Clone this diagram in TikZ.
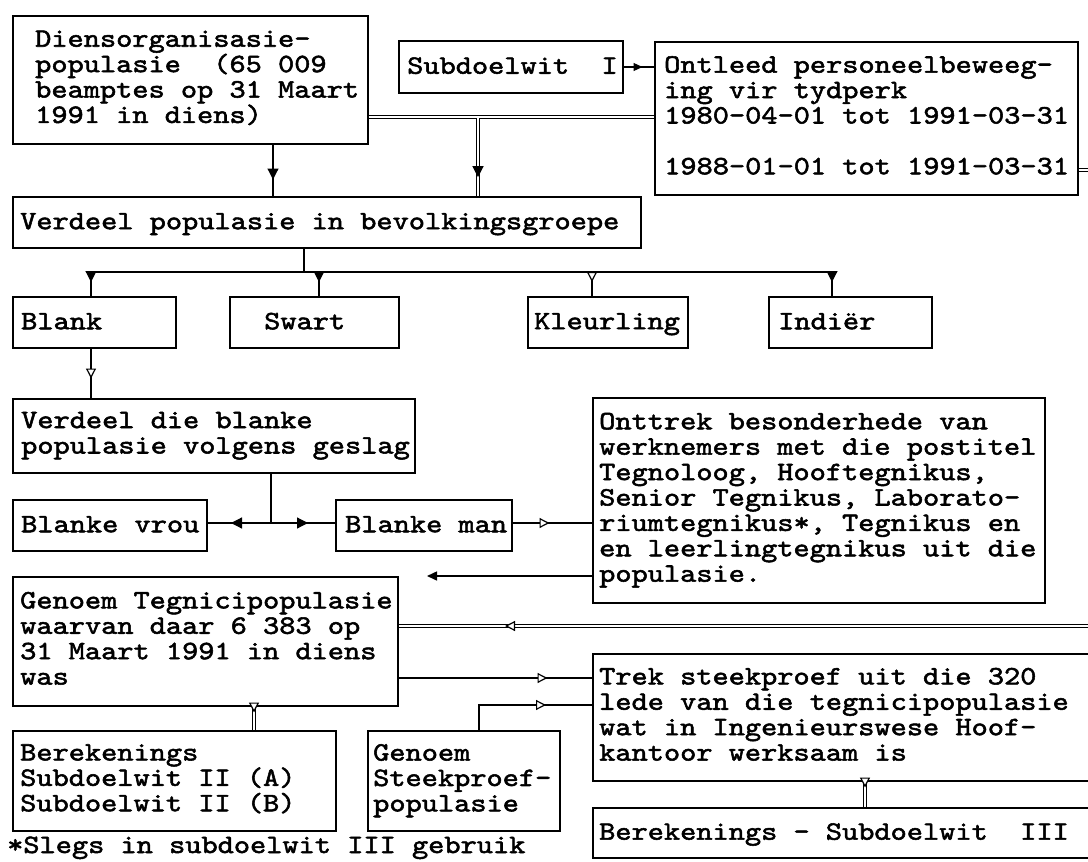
\documentclass[tikz,border=0pt]{standalone}
\usepackage{fontspec}
\newfontfamily\cour{lmmono10-regular}[Extension=.otf, FakeStretch=1.164, FakeBold=2]
\usetikzlibrary{arrows.meta,decorations.markings}
\tikzset{
  bx/.style={draw, line width=1.5pt, rectangle, inner sep=0pt, anchor=north west},
  tx/.style={anchor=west, align=left, inner sep=0pt, font=\cour\fontsize{26.5pt}{25.4pt}\selectfont,
    execute at begin node={\rule[-6pt]{0pt}{26pt}}, execute at end node={\rule[-6pt]{0pt}{26pt}}},
  ln/.style={line width=1.5pt},
  dbl/.style={double, double distance=2.4pt, line width=1.2pt},
  ft/.tip={Triangle[width=11pt,length=11pt]},
  st/.tip={Triangle[width=8pt,length=9pt]},
  ot/.tip={Triangle[fill=white,width=10pt,length=10pt]},
  mk/.style 2 args={postaction={decorate},decoration={markings,mark=at position #1 with {\arrow[line width=1.2pt]{#2}}}},
}
\begin{document}
\begin{tikzpicture}[x=1pt,y=-1pt]
\useasboundingbox (0,0) rectangle (1088,862);
\clip (0,0) rectangle (1088,862);
% boxes
\node[bx, minimum width=355pt, minimum height=128pt] (D) at (12,15) {};
\node[bx, minimum width=224pt, minimum height=52pt] (S1) at (398,40) {};
\node[bx, minimum width=423pt, minimum height=153pt] (O) at (654,41) {};
\node[bx, minimum width=628pt, minimum height=51pt] (V) at (12,196) {};
\node[bx, minimum width=163pt, minimum height=51pt] (Bl) at (12,296) {};
\node[bx, minimum width=169pt, minimum height=51pt] (Sw) at (229,296) {};
\node[bx, minimum width=160pt, minimum height=51pt] (Kl) at (527,296) {};
\node[bx, minimum width=163pt, minimum height=51pt] (In) at (768,296) {};
\node[bx, minimum width=402pt, minimum height=74pt] (VB) at (12,398) {};
\node[bx, minimum width=194pt, minimum height=51pt] (BV) at (12,499) {};
\node[bx, minimum width=176pt, minimum height=51pt] (BM) at (335,499) {};
\node[bx, minimum width=452pt, minimum height=205pt] (OT) at (592,397) {};
\node[bx, minimum width=385pt, minimum height=129pt] (TG) at (12,576) {};
\node[bx, minimum width=520pt, minimum height=127pt] (TK) at (592,653) {};
\node[bx, minimum width=323pt, minimum height=100pt] (BA) at (12,730) {};
\node[bx, minimum width=192pt, minimum height=100pt] (GS) at (367,730) {};
\node[bx, minimum width=520pt, minimum height=50pt] (BS) at (592,807) {};
% texts
\node[tx] (Dt) at ([xshift=23pt]D.west) {Diensorganisasie-\\populasie~~(65 009\\beamptes op 31 Maart\\1991 in diens)};
\node[tx] (S1t) at ([xshift=9pt]S1.west) {Subdoelwit~~I};
\node[tx] (Ot) at ([xshift=10pt]O.west) {Ontleed personeelbeweeg-\\ing vir tydperk\\1980-04-01 tot 1991-03-31\\[25.4pt]1988-01-01 tot 1991-03-31};
\node[tx] (Vt) at ([xshift=8pt]V.west) {Verdeel populasie in bevolkingsgroepe};
\node[tx] (Blt) at ([xshift=9pt]Bl.west) {Blank};
\node[tx] (Swt) at ([xshift=35pt]Sw.west) {Swart};
\node[tx] (Klt) at ([xshift=7pt]Kl.west) {Kleurling};
\node[tx] (Int) at ([xshift=10pt]In.west) {Indiër};
\node[tx] (VBt) at ([xshift=9pt]VB.west) {Verdeel die blanke\\populasie volgens geslag};
\node[tx] (BVt) at ([xshift=9pt]BV.west) {Blanke vrou};
\node[tx] (BMt) at ([xshift=10pt]BM.west) {Blanke man};
\node[tx] (OTt) at ([xshift=7pt]OT.west) {Onttrek besonderhede van\\werknemers met die postitel\\Tegnoloog, Hooftegnikus,\\Senior Tegnikus, Laborato-\\riumtegnikus*, Tegnikus en\\en leerlingtegnikus uit die\\populasie.};
\node[tx] (TGt) at ([xshift=8pt]TG.west) {Genoem Tegnicipopulasie\\waarvan daar 6 383 op\\31 Maart 1991 in diens\\was};
\node[tx] (TKt) at ([xshift=7pt]TK.west) {Trek steekproef uit die 320\\lede van die tegnicipopulasie\\wat in Ingenieurswese Hoof-\\kantoor werksaam is};
\node[tx] (BAt) at ([xshift=8pt]BA.west) {Berekenings\\Subdoelwit II (A)\\Subdoelwit II (B)};
\node[tx] (GSt) at ([xshift=6pt]GS.west) {Genoem\\Steekproef-\\populasie};
\node[tx] (BSt) at ([xshift=7pt]BS.west) {Berekenings - Subdoelwit~~III};
\node[tx, anchor=base west, execute at begin node={}, execute at end node={}] (fn) at (7,853) {*Slegs in subdoelwit III gebruik};
% connectors
\draw[ln, mk={35pt}{ft}] (273,0 |- D.south) -- (273,0 |- V.north);
\draw[dbl] (D.east |- 0,117) -- (O.west |- 0,117);
\coordinate (j1) at (478,118.2);
\draw[dbl] (j1) -- (j1 |- V.north);
\path[mk={59pt}{ft}] (j1) -- (j1 |- V.north);
\draw[ln, mk={19pt}{st}] (S1.east |- 0,67) -- (O.west |- 0,67);
\coordinate (oe) at (1095,170);
\draw[dbl] (O.east |- oe) -- (oe);
\coordinate (b0) at (304,272);
\coordinate (b1) at (91,272);
\coordinate (b2) at (319,272);
\coordinate (b3) at (592,272);
\coordinate (b4) at (832,272);
\draw[ln] (b0 |- V.south) -- (b0);
\draw[ln] (b1) -- (b4);
\draw[ln, mk={10pt}{ft}] (b1) -- (b1 |- Bl.north);
\draw[ln, mk={10pt}{ft}] (b2) -- (b2 |- Sw.north);
\draw[ln, mk={10pt}{ot}] (b3) -- (b3 |- Kl.north);
\draw[ln, mk={10pt}{ft}] (b4) -- (b4 |- In.north);
\draw[ln, mk={30pt}{ot}] (b1 |- Bl.south) -- (b1 |- VB.north);
\coordinate (g0) at (271,523);
\draw[ln] (g0 |- VB.south) -- (g0);
\draw[ln, mk={40pt}{ft}] (g0) -- (BV.east |- g0);
\draw[ln, mk={37pt}{ft}] (g0) -- (BM.west |- g0);
\draw[ln, mk={37pt}{ot}] (BM.east |- 0,523) -- (OT.west |- 0,523);
\coordinate (fe) at (427,576);
\draw[ln, -{Triangle[width=9pt,length=10pt]}] (OT.west |- fe) -- (fe);
\coordinate (te) at (1095,626);
\draw[dbl] (te) -- (TG.east |- te);
\path[mk={590pt}{ot}] (te) -- (TG.east |- te);
\draw[ln, mk={149pt}{ot}] (TG.east |- 0,678) -- (TK.west |- 0,678);
\draw[ln, mk={92pt}{ot}] (479,0 |- GS.north) |- (TK.west |- 0,705);
\coordinate (c1) at (254,0);
\draw[dbl] (c1 |- TG.south) -- (c1 |- BA.north);
\path[mk={6pt}{ot}] (c1 |- TG.south) -- (c1 |- BA.north);
\coordinate (c2) at (865,0);
\draw[dbl] (c2 |- TK.south) -- (c2 |- BS.north);
\path[mk={6pt}{ot}] (c2 |- TK.south) -- (c2 |- BS.north);
\end{tikzpicture}
\end{document}
